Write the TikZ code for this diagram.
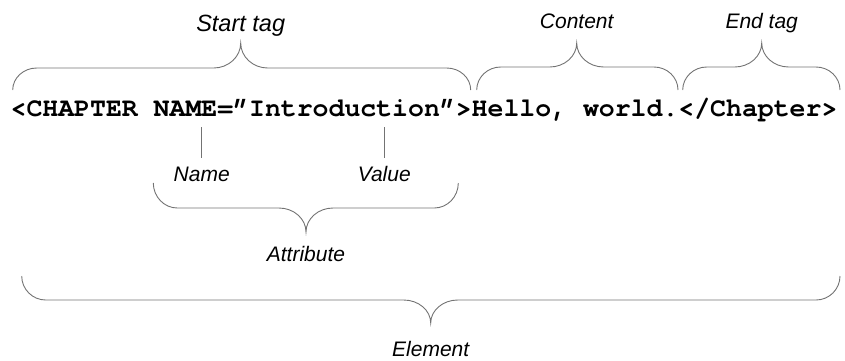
\documentclass[tikz,border=0pt]{standalone}
\usepackage{fontspec}
\setmainfont{Liberation Sans}
\newfontfamily\codefont{TeX Gyre Cursor}
\begin{document}
\begin{tikzpicture}[x=1pt,y=-1pt,
  bracepath/.style={draw=black!55,line width=0.9pt},
  tag/.style={font=\fontsize{21}{24}\selectfont\itshape,inner sep=0pt,anchor=base},
  bigtag/.style={font=\fontsize{23.5}{26}\selectfont\itshape,inner sep=0pt,anchor=base},
  code/.style={font=\codefont\bfseries\fontsize{26.5}{30}\selectfont,inner sep=0pt,anchor=base},
  tick/.style={draw=black!55,line width=0.9pt}]
\useasboundingbox (0,0) rectangle (845,360);
% brace: #1 left x, #2 right x, #3 tip x, #4 end y, #5 bar y, #6 tip y
% rounded corners at the ends, a pointed cusp in the middle
\newcommand\curlybrace[6]{%
  \path[bracepath] (#1,#4)
    .. controls (#1,{#4+0.55*(#5-#4)}) and ({#1+0.45*24},#5) .. ({#1+24},#5)
    -- ({#3-27},#5)
    .. controls ({#3-0.45*27},#5) and (#3,{#5+0.45*(#6-#5)}) .. (#3,#6)
    .. controls (#3,{#5+0.45*(#6-#5)}) and ({#3+0.45*27},#5) .. ({#3+27},#5)
    -- ({#2-24},#5)
    .. controls ({#2-0.45*24},#5) and (#2,{#4+0.55*(#5-#4)}) .. (#2,#4);}

% the marked-up line
\node[code] (markup) at (424,116) {<CHAPTER NAME=”Introduction”>Hello, world.</Chapter>};

% braces above the line
\curlybrace{12.7}{470.7}{240.7}{90}{68}{43}
\curlybrace{476.7}{678}{576.7}{90}{67}{43}
\curlybrace{682.7}{840}{761.7}{90}{67}{43}

\node[bigtag] (starttag) at (240.7,31) {Start tag};
\node[tag] (content) at (576.7,28) {Content};
\node[tag] (endtag) at (761.7,28) {End tag};

% attribute parts
\node[tag] (name) at (201.7,181) {Name};
\node[tag] (value) at (384.3,181) {Value};
\coordinate (nametop) at (201.7,127);
\coordinate (valuetop) at (384.3,127);
\path[tick] (nametop) -- (name.north |- 0,158);
\path[tick] (valuetop) -- (value.north |- 0,158);

% braces below the line
\curlybrace{153.3}{458.3}{306}{183}{208}{232}
\node[tag] (attribute) at (306,261) {Attribute};

\curlybrace{21.7}{840}{430.7}{276}{300}{323}
\node[tag] (element) at (430.7,356) {Element};
\end{tikzpicture}
\end{document}
